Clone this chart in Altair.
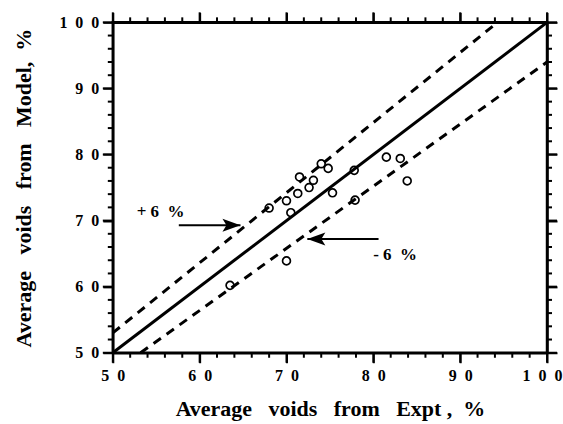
import altair as alt
import pandas as pd

# measured points (Expt, Model)
expt = [63.5, 70.0, 68.0, 70.0, 70.5, 71.3, 71.5, 72.6, 73.1, 74.0, 74.8, 75.3, 77.8, 77.9, 81.5, 83.1, 83.9]
model = [60.2, 63.9, 71.9, 73.0, 71.2, 74.1, 76.6, 75.0, 76.1, 78.6, 77.9, 74.2, 77.6, 73.1, 79.6, 79.4, 76.0]

# reference lines
line_x = [50, 100]
line_y = [50, 100]
upper_x = [50, 94.3]
upper_y = [53, 100]
lower_x = [53.2, 100]
lower_y = [50, 94]

# annotations
plus_arrow_x = [57.6, 64.7]
plus_arrow_y = 69.3
minus_arrow_x = [80.6, 72.4]
minus_arrow_y = 67.2
labels_text = ["+\u00a06\u00a0\u00a0%", "-\u00a06\u00a0\u00a0%"]
labels_x = [55.5, 82.5]
labels_y = [71.3, 64.8]

major_ticks = [50, 60, 70, 80, 90, 100]
minor_ticks = [v for v in range(50, 101, 2) if v % 10 != 0]

W, H = 435, 331
FONT = "Liberation Serif"
SP = "\u00a0\u00a0\u00a0"
xs = alt.Scale(domain=[50, 100], nice=False, zero=False)
ys = alt.Scale(domain=[50, 100], nice=False, zero=False)

lab_expr = "join(split(datum.label, ''), '\u2002')"

tick_style = dict(tickWidth=2, tickColor="black", ticks=True, grid=False,
                  domainColor="black", domainWidth=2.5)
lab_style = dict(labelFont=FONT, labelFontWeight="bold", labelFontSize=16, labelColor="black",
                 labelOverlap=False, labelExpr=lab_expr,
                 titleFont=FONT, titleFontWeight="bold", titleFontSize=22, titleColor="black")

x_major = alt.Axis(orient="bottom", values=major_ticks, tickSize=10, labelFlush=False, labelPadding=5,
                   labelOffset={"condition": {"test": "datum.value === 100", "value": -5}, "value": 0},
                   title="Average" + SP + "voids" + SP + "from" + SP + "Expt\u00a0,\u00a0\u00a0%",
                   titleY=63, titleBaseline="alphabetic", **tick_style, **lab_style)
y_major = alt.Axis(orient="left", values=major_ticks, tickSize=10, labelPadding=4,
                   title="Average" + SP + "voids" + SP + "from" + SP + "Model,\u00a0\u00a0%",
                   titleX=-89, titleY=165.5, titleAngle=-90, titleAlign="center", titleBaseline="middle",
                   **tick_style, **lab_style)
x_top = alt.Axis(orient="top", values=major_ticks, tickSize=10, labels=False, title=None, **tick_style)
y_right = alt.Axis(orient="right", values=major_ticks, tickSize=10, labels=False, title=None, **tick_style)

pts = pd.DataFrame({"expt": expt, "model": model})

base_pts = alt.Chart(pts).mark_point(shape="circle", filled=False, color="black",
                                     size=62, strokeWidth=1.7, opacity=1).encode(
    x=alt.X("expt:Q", scale=xs, axis=x_major),
    y=alt.Y("model:Q", scale=ys, axis=y_major),
)

frame = alt.Chart(pts).mark_point(opacity=0).encode(
    x=alt.X("expt:Q", scale=xs, axis=x_top),
    y=alt.Y("model:Q", scale=ys, axis=y_right),
)

# minor/major tick marks drawn as rules from the tick value lists through the scales
def hticks(vals, y0, y1):
    df = pd.DataFrame({"t": vals})
    return alt.Chart(df).mark_rule(color="black", strokeWidth=2).encode(
        x=alt.X("t:Q", scale=xs, axis=None), y=alt.value(y0), y2=alt.value(y1))

def vticks(vals, x0, x1):
    df = pd.DataFrame({"t": vals})
    return alt.Chart(df).mark_rule(color="black", strokeWidth=2).encode(
        y=alt.Y("t:Q", scale=ys, axis=None), x=alt.value(x0), x2=alt.value(x1))

tick_layers = [
    hticks(major_ticks, H, H + 10), hticks(minor_ticks, H, H + 5),
    hticks(major_ticks, 0, -10), hticks(minor_ticks, 0, -5),
    vticks(major_ticks, 0, -10), vticks(minor_ticks, 0, -5),
    vticks(major_ticks, W, W + 10), vticks(minor_ticks, W, W + 5),
]

def seg(xv, yv, **kw):
    df = pd.DataFrame({"x": xv, "y": yv})
    return alt.Chart(df).mark_line(color="black", **kw).encode(
        x=alt.X("x:Q", scale=xs, axis=None),
        y=alt.Y("y:Q", scale=ys, axis=None),
    )

solid = seg(line_x, line_y, strokeWidth=3)
upper = seg(upper_x, upper_y, strokeWidth=3, strokeDash=[9, 7])
lower = seg(lower_x, lower_y, strokeWidth=3, strokeDash=[9, 7])

arrows = pd.DataFrame({
    "x1": [plus_arrow_x[0], minus_arrow_x[0]],
    "x2": [plus_arrow_x[1], minus_arrow_x[1]],
    "y": [plus_arrow_y, minus_arrow_y],
    "ang": [0, 180],
})
shafts = alt.Chart(arrows).mark_rule(color="black", strokeWidth=2).encode(
    x=alt.X("x1:Q", scale=xs, axis=None), x2="x2:Q",
    y=alt.Y("y:Q", scale=ys, axis=None),
)
heads = alt.Chart(arrows).mark_point(
    shape="M 0 0 L -1 -0.36 L -0.78 0 L -1 0.36 Z", size=1300, filled=True,
    color="black", opacity=1, strokeWidth=0).encode(
    x=alt.X("x2:Q", scale=xs, axis=None),
    y=alt.Y("y:Q", scale=ys, axis=None),
    angle=alt.Angle("ang:Q", scale=None),
)

txt = pd.DataFrame({"t": labels_text, "x": labels_x, "y": labels_y})
texts = alt.Chart(txt).mark_text(font=FONT, fontWeight="bold", fontSize=17, color="black").encode(
    x=alt.X("x:Q", scale=xs, axis=None),
    y=alt.Y("y:Q", scale=ys, axis=None),
    text="t:N",
)

chart = alt.layer(base_pts, frame, *tick_layers, solid, upper, lower, shafts, heads, texts).resolve_axis(
    x="independent", y="independent"
).properties(
    width=W, height=H,
    padding={"left": 12, "top": 11, "right": 1, "bottom": 5},
).configure_view(stroke="black", strokeWidth=2.5)

chart.save("out.html", embed_options={"renderer": "svg", "actions": False})
